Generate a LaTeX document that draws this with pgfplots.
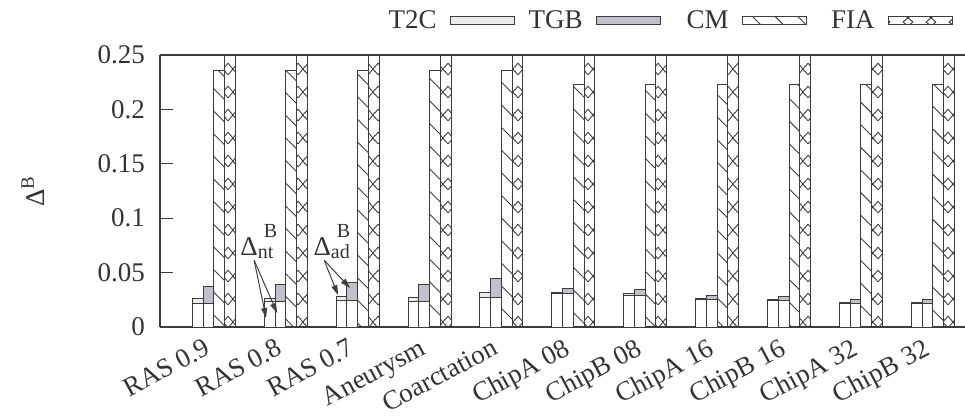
\documentclass[border=0pt]{standalone}
\usepackage{pgfplots}
\pgfplotsset{compat=1.18}
\usepackage{pgfplotstable}
\usepackage{fontspec}
\setmainfont{Liberation Serif}
\usetikzlibrary{patterns,patterns.meta,arrows.meta}
\definecolor{tgbgrey}{RGB}{192,192,202}
\definecolor{t2cgrey}{RGB}{236,236,236}
\definecolor{edge}{RGB}{60,60,60}

% one X per bar width, repeating every 11.35bp upwards
\pgfdeclarepatternformonly{fiaX}{\pgfqpoint{0bp}{0bp}}{\pgfqpoint{5.1349bp}{11.35bp}}{\pgfqpoint{5.1349bp}{11.35bp}}{%
  \pgfsetlinewidth{0.45bp}%
  \pgfpathmoveto{\pgfqpoint{1.643bp}{0bp}}\pgfpathlineto{\pgfqpoint{6.778bp}{6bp}}%
  \pgfpathmoveto{\pgfqpoint{1.643bp}{6bp}}\pgfpathlineto{\pgfqpoint{6.778bp}{0bp}}%
  \pgfpathmoveto{\pgfqpoint{-3.492bp}{0bp}}\pgfpathlineto{\pgfqpoint{1.643bp}{6bp}}%
  \pgfpathmoveto{\pgfqpoint{-3.492bp}{6bp}}\pgfpathlineto{\pgfqpoint{1.643bp}{0bp}}%
  \pgfusepath{stroke}}
\pgfdeclarepatternformonly{fiaXleg}{\pgfqpoint{0bp}{-2bp}}{\pgfqpoint{11.5bp}{2bp}}{\pgfqpoint{11.5bp}{4bp}}{%
  \pgfsetlinewidth{0.45bp}%
  \pgfpathmoveto{\pgfqpoint{3bp}{-2bp}}\pgfpathlineto{\pgfqpoint{8bp}{2bp}}%
  \pgfpathmoveto{\pgfqpoint{3bp}{2bp}}\pgfpathlineto{\pgfqpoint{8bp}{-2bp}}%
  \pgfusepath{stroke}}

\pgfplotsset{
  legbox/.style={legend image code/.code={\draw[##1] (0bp,-2bp) rectangle (32bp,2bp);}},
  fialeg/.style={legend image code/.code={%
    \draw[edge, line width=0.5bp, pattern=fiaXleg, pattern color=edge] (0bp,-2bp) rectangle (32bp,2bp);}},
}

\pgfplotstableread{
x T2Ct T2Cn TGBt TGBn CM FIA
0 0.0260 0.0220 0.0376 0.0220 0.236 0.30
1 0.0266 0.0230 0.0390 0.0230 0.236 0.30
2 0.0280 0.0245 0.0407 0.0245 0.236 0.30
3 0.0275 0.0230 0.0395 0.0230 0.236 0.30
4 0.0315 0.0275 0.0450 0.0275 0.236 0.30
5 0.0315 0.0306 0.0350 0.0306 0.223 0.30
6 0.0306 0.0294 0.0343 0.0294 0.223 0.30
7 0.0260 0.0250 0.0294 0.0250 0.223 0.30
8 0.0254 0.0243 0.0278 0.0243 0.223 0.30
9 0.0223 0.0215 0.0254 0.0215 0.223 0.30
10 0.0229 0.0217 0.0254 0.0217 0.223 0.30
}\data

\newcommand{\subsz}{\fontsize{10bp}{12bp}\selectfont}
\newcommand{\leg}[1]{\makebox[26bp][r]{#1}}

\begin{document}
\begin{tikzpicture}
\begin{axis}[
  scale only axis, width=402.5bp, height=136bp,
  xmin=-0.75, xmax=10.448, ymin=0, ymax=0.25,
  axis x line*=bottom, axis y line*=left,
  axis line style={edge, line width=0.8bp},
  font=\fontsize{13.5bp}{16bp}\selectfont,
  ytick={0,0.05,0.1,0.15,0.2,0.25},
  yticklabels={0,0.05,0.1,0.15,0.2,0.25},
  scaled y ticks=false,
  tick align=inside, major tick length=6.5bp,
  ytick style={edge, line width=0.6bp},
  xtick={0,1,2,3,4,5,6,7,8,9,10},
  xticklabels={RAS 0.9,RAS 0.8,RAS 0.7,Aneurysm,Coarctation,ChipA 08,ChipB 08,ChipA 16,ChipB 16,ChipA 32,ChipB 32},
  xtick style={draw=none},
  xticklabel style={rotate=28, anchor=north east, inner sep=1bp, xshift=-6bp, yshift=-1bp, text=black!80},
  yticklabel style={text=black!80, xshift=-4bp},
  ylabel={Δ\textsuperscript{B}},
  ylabel style={at={(axis description cs:-0.1578,0.5)}, anchor=center, text=black!80},
  legend columns=-1, legend plot pos=right,
  legend style={at={(rel axis cs:0.985,1)}, anchor=east, yshift=17bp, draw=none, fill=none,
    text=black!80, inner sep=0pt,
    /tikz/every odd column/.append style={column sep=4.5bp},
    /tikz/every even column/.append style={column sep=6bp}},
]
\addplot[ybar, bar width=0.1495, bar shift=-0.2243, draw=edge, line width=0.5bp, fill=t2cgrey, legbox]
  table[x=x,y=T2Ct]{\data};
\addlegendentry{\leg{T2C}}
\addplot[ybar, bar width=0.1495, bar shift=-0.0748, draw=edge, line width=0.5bp, fill=tgbgrey, legbox]
  table[x=x,y=TGBt]{\data};
\addlegendentry{\leg{TGB}}
\addplot[ybar, forget plot, bar width=0.1495, bar shift=-0.2243, draw=edge, line width=0.5bp, fill=white]
  table[x=x,y=T2Cn]{\data};
\addplot[ybar, forget plot, bar width=0.1495, bar shift=-0.0748, draw=edge, line width=0.5bp, fill=white]
  table[x=x,y=TGBn]{\data};
\addplot[ybar, bar width=0.1495, bar shift=0.0748, draw=edge, line width=0.5bp,
  pattern={Lines[angle=-45, distance=8bp, line width=0.45bp]}, pattern color=edge, legbox]
  table[x=x,y=CM]{\data};
\addlegendentry{\leg{CM}}
\addplot[ybar, bar width=0.1495, bar shift=0.2243, draw=edge, line width=0.5bp,
  pattern=fiaX, pattern color=edge, fialeg]
  table[x=x,y=FIA]{\data};
\addlegendentry{\leg{FIA}}
\draw[edge, line width=0.8bp] (rel axis cs:0,1) -- (rel axis cs:1,1);
\node[anchor=base west, inner sep=0pt, text=black!80] at (axis cs:0.364,0.066)
  {Δ\rlap{\hspace{3bp}\raisebox{9bp}{\subsz B}}\raisebox{-1.5bp}{\subsz nt}};
\node[anchor=base west, inner sep=0pt, text=black!80] at (axis cs:1.380,0.066)
  {Δ\rlap{\hspace{3bp}\raisebox{9bp}{\subsz B}}\raisebox{-1.5bp}{\subsz ad}};
\draw[black!75, line width=0.5bp, -{Triangle[length=5bp, width=3bp]}] (axis cs:0.559,0.0614) -- (axis cs:0.726,0.0083);
\draw[black!75, line width=0.5bp, -{Triangle[length=5bp, width=3bp]}] (axis cs:0.559,0.0614) -- (axis cs:0.879,0.0128);
\draw[black!75, line width=0.5bp, -{Triangle[length=5bp, width=3bp]}] (axis cs:1.534,0.0614) -- (axis cs:1.727,0.0293);
\draw[black!75, line width=0.5bp, -{Triangle[length=5bp, width=3bp]}] (axis cs:1.534,0.0614) -- (axis cs:1.894,0.0358);
\end{axis}
\pgfresetboundingbox
\path[use as bounding box] (-80bp,-45.5bp) rectangle (402.5bp,163.5bp);
\end{tikzpicture}
\end{document}
